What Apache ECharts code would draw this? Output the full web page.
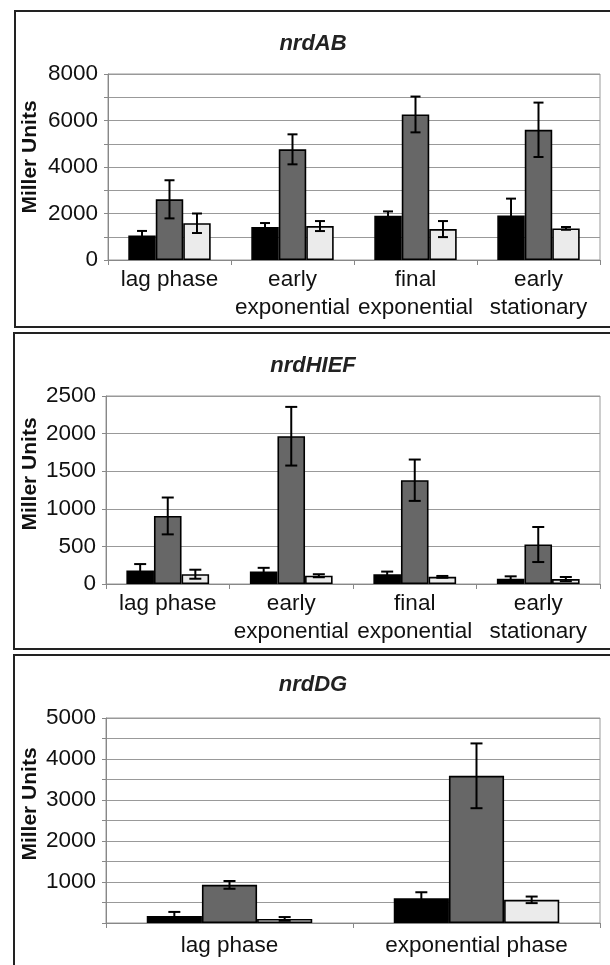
<!DOCTYPE html>
<html>
<head>
<meta charset="utf-8">
<script src="https://cdn.jsdelivr.net/npm/echarts@6/dist/echarts.min.js"></script>
<style>
html, body { margin: 0; padding: 0; background: #fff; }
#chart { width: 610px; height: 965px; }
</style>
</head>
<body>
<div id="chart"></div>
<script>
// nrdAB panel
var catsAB = ['lag phase', 'early\nexponential', 'final\nexponential', 'early\nstationary'];
var abBlack = [1050, 1420, 1900, 1910];
var abBlackErr = [200, 170, 190, 730];
var abGray = [2610, 4760, 6260, 5600];
var abGrayErr = [820, 645, 770, 1170];
var abLight = [1580, 1460, 1330, 1360];
var abLightErr = [420, 215, 345, 60];

// nrdHIEF panel
var catsHIEF = ['lag phase', 'early\nexponential', 'final\nexponential', 'early\nstationary'];
var hiefBlack = [180, 165, 130, 70];
var hiefBlackErr = [85, 50, 35, 32];
var hiefGray = [905, 1965, 1380, 525];
var hiefGrayErr = [245, 390, 275, 233];
var hiefLight = [130, 110, 95, 65];
var hiefLightErr = [60, 20, 12, 28];

// nrdDG panel
var catsDG = ['lag phase', 'exponential phase'];
var dgBlack = [170, 605];
var dgBlackErr = [100, 145];
var dgGray = [930, 3590];
var dgGrayErr = [95, 790];
var dgLight = [100, 565];
var dgLightErr = [45, 80];

var titles = ['nrdAB', 'nrdHIEF', 'nrdDG'];
var colors = ['#000000', '#676767', '#ebebeb'];
var GAP = 0.33;
var FONT = 'Liberation Sans, Arial, sans-serif';

var chart = echarts.init(document.getElementById('chart'));

function errData(vals, errs, k) {
  return vals.map(function (v, i) { return [i, v, errs[i], k]; });
}

function errRender(cap) {
  return function (params, api) {
    var ci = api.value(0), v = api.value(1), e = api.value(2), k = api.value(3);
    var catW = api.size([1, 0])[0];
    var bw = catW * (1 - GAP) / 3;
    var c = api.coord([ci, v]);
    var x = c[0] + (k - 1) * bw;
    var top = api.coord([ci, v + e])[1];
    var bot = api.coord([ci, Math.max(v - e, 0)])[1];
    var st = { stroke: '#000', lineWidth: 2 };
    return {
      type: 'group',
      children: [
        { type: 'line', shape: { x1: x, y1: top, x2: x, y2: bot }, style: st },
        { type: 'line', shape: { x1: x - cap, y1: top, x2: x + cap, y2: top }, style: st },
        { type: 'line', shape: { x1: x - cap, y1: bot, x2: x + cap, y2: bot }, style: st }
      ]
    };
  };
}

var panels = [
  { cats: catsAB, vals: [abBlack, abGray, abLight], errs: [abBlackErr, abGrayErr, abLightErr],
    max: 8000, interval: 1000, fmt: function (v) { return v % 2000 === 0 ? v : ''; }, cap: 5, margin: 6 },
  { cats: catsHIEF, vals: [hiefBlack, hiefGray, hiefLight], errs: [hiefBlackErr, hiefGrayErr, hiefLightErr],
    max: 2500, interval: 500, fmt: function (v) { return v; }, cap: 6, margin: 6 },
  { cats: catsDG, vals: [dgBlack, dgGray, dgLight], errs: [dgBlackErr, dgGrayErr, dgLightErr],
    max: 5000, interval: 500, fmt: function (v) { return v > 0 && v % 1000 === 0 ? v : ''; }, cap: 6, margin: 9 }
];

var grids = [
  { left: 108, right: 10, top: 74, height: 186 },
  { left: 106, right: 10, top: 396, height: 188 },
  { left: 106, right: 10, top: 718, height: 205 }
];

var xAxes = [], yAxes = [], series = [];
panels.forEach(function (p, g) {
  grids[g].show = true;
  grids[g].borderColor = '#999';
  grids[g].borderWidth = 1;
  xAxes.push({
    type: 'category', gridIndex: g, data: p.cats,
    axisLine: { lineStyle: { color: '#888', width: 1 } },
    axisTick: { show: true, length: 5, lineStyle: { color: '#888' } },
    axisLabel: { color: '#111', fontSize: 22.5, fontFamily: FONT, lineHeight: 28, margin: p.margin, interval: 0 }
  });
  yAxes.push({
    type: 'value', gridIndex: g, min: 0, max: p.max, interval: p.interval,
    axisLine: { show: true, lineStyle: { color: '#888', width: 1 } },
    axisTick: { show: true, length: 4, lineStyle: { color: '#888' } },
    axisLabel: { color: '#111', fontSize: 22.5, fontFamily: FONT, margin: 10, formatter: p.fmt },
    splitLine: { lineStyle: { color: '#999', width: 1 } }
  });
  p.vals.forEach(function (vals, k) {
    series.push({
      type: 'bar', xAxisIndex: g, yAxisIndex: g, data: vals,
      barGap: 0, barCategoryGap: (GAP * 100) + '%',
      itemStyle: { color: colors[k], borderColor: '#000', borderWidth: 1.6 },
      silent: true
    });
  });
  var ed = [];
  p.vals.forEach(function (vals, k) { ed = ed.concat(errData(vals, p.errs[k], k)); });
  series.push({
    type: 'custom', xAxisIndex: g, yAxisIndex: g, data: ed, z: 5,
    renderItem: errRender(p.cap), silent: true
  });
});

var graphic = [
  { type: 'rect', shape: { x: 15, y: 11, width: 620, height: 316 }, style: { fill: 'none', stroke: '#222', lineWidth: 2 } },
  { type: 'rect', shape: { x: 14, y: 333, width: 620, height: 316 }, style: { fill: 'none', stroke: '#222', lineWidth: 2 } },
  { type: 'rect', shape: { x: 14, y: 655, width: 620, height: 330 }, style: { fill: 'none', stroke: '#222', lineWidth: 2 } }
];
var titleY = [44, 366, 685];
var nameY = [157, 474, 804];
titles.forEach(function (t, i) {
  graphic.push({
    type: 'text', x: 313, y: titleY[i],
    style: { text: t, fill: '#222', font: 'italic bold 22px ' + FONT, textAlign: 'center', textVerticalAlign: 'middle' }
  });
  graphic.push({
    type: 'text', x: 30, y: nameY[i], rotation: Math.PI / 2,
    style: { text: 'Miller Units', fill: '#111', font: 'bold 21px ' + FONT, textAlign: 'center', textVerticalAlign: 'middle' }
  });
});

chart.setOption({
  animation: false,
  grid: grids,
  xAxis: xAxes,
  yAxis: yAxes,
  series: series,
  graphic: graphic
});
</script>
</body>
</html>
